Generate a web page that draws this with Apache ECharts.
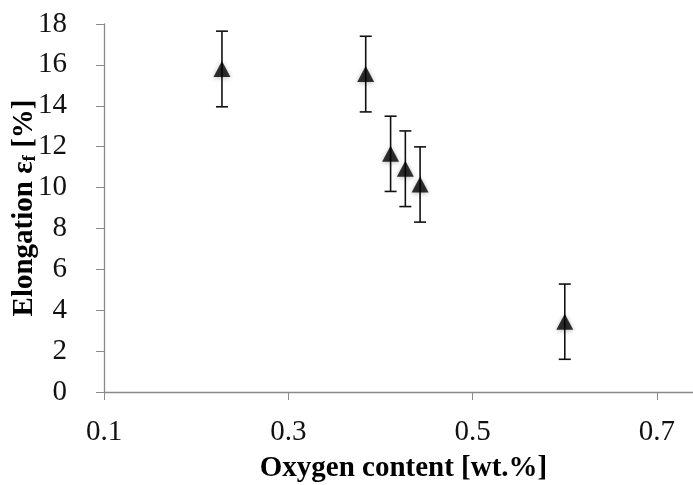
<!DOCTYPE html>
<html>
<head>
<meta charset="utf-8">
<script src="https://cdn.jsdelivr.net/npm/echarts@6/dist/echarts.min.js"></script>
<style>
  html, body { margin: 0; padding: 0; background: #fff; }
  #chart { width: 693px; height: 485px; }
</style>
</head>
<body>
<div id="chart"></div>
<script>
// 数据：氧含量 vs 延伸率
const oxygen = [0.228, 0.384, 0.411, 0.427, 0.443, 0.600]
const elongation = [15.8, 15.55, 11.65, 10.92, 10.15, 3.44]
const errorBar = [1.85, 1.85, 1.84, 1.85, 1.84, 1.84]
const xTickLabels = ['0.1', '0.3', '0.5', '0.7']

const fontFamily = '"Liberation Serif", "Times New Roman", serif'
const axisGray = '#8a8a8a'

const points = oxygen.map((x, i) => [x, elongation[i]])
const bars = oxygen.map((x, i) => [x, elongation[i] - errorBar[i], elongation[i] + errorBar[i]])

const chart = echarts.init(document.getElementById('chart'))
chart.setOption({
  animation: false,
  grid: { left: 104, right: -10, top: 24, bottom: 93, outerBoundsMode: 'none', containLabel: false },
  xAxis: {
    type: 'value',
    min: 0.1,
    max: 0.75,
    interval: 0.2,
    name: 'Oxygen content [wt.%]',
    nameLocation: 'middle',
    nameGap: 62,
    nameMoveOverlap: false,
    nameTextStyle: { fontFamily, fontSize: 29, fontWeight: 'bold', color: '#000' },
    axisLine: { lineStyle: { color: axisGray, width: 1.3 } },
    axisTick: { inside: false, length: 8, lineStyle: { color: axisGray } },
    axisLabel: {
      margin: 26,
      fontFamily,
      fontSize: 29,
      color: '#111',
      hideOverlap: false,
      formatter: v => {
        const s = v.toFixed(1)
        return xTickLabels.includes(s) && Math.abs(v - parseFloat(s)) < 1e-6 ? s : ''
      }
    },
    splitLine: { show: false }
  },
  yAxis: {
    type: 'value',
    min: 0,
    max: 18,
    interval: 2,
    name: '{t|Elongation ε}{s|f}{t| [%]}',
    nameLocation: 'middle',
    nameGap: 64,
    nameMoveOverlap: false,
    nameTextStyle: {
      rich: {
        t: { fontFamily, fontSize: 29, fontWeight: 'bold', color: '#000' },
        s: { fontFamily, fontSize: 19, fontWeight: 'bold', color: '#000', verticalAlign: 'bottom', padding: [11, 0, 0, 0] }
      }
    },
    axisLine: { show: true, lineStyle: { color: axisGray, width: 1.3 } },
    axisTick: { show: true, length: 8, lineStyle: { color: axisGray } },
    axisLabel: { margin: 37, fontFamily, fontSize: 29, color: '#111' },
    splitLine: { show: false }
  },
  series: [
    {
      // 误差棒
      type: 'custom',
      data: bars,
      z: 2,
      renderItem: (params, api) => {
        const x = api.value(0)
        const low = api.coord([x, api.value(1)])
        const high = api.coord([x, api.value(2)])
        const cap = 6
        const style = { stroke: '#111', lineWidth: 1.6 }
        return {
          type: 'group',
          children: [
            { type: 'line', shape: { x1: low[0], y1: low[1], x2: high[0], y2: high[1] }, style },
            { type: 'line', shape: { x1: low[0] - cap, y1: low[1], x2: low[0] + cap, y2: low[1] }, style },
            { type: 'line', shape: { x1: high[0] - cap, y1: high[1], x2: high[0] + cap, y2: high[1] }, style }
          ]
        }
      }
    },
    {
      type: 'scatter',
      data: points,
      symbol: 'triangle',
      symbolSize: [17, 16],
      z: 3,
      itemStyle: {
        color: '#000',
        shadowBlur: 5,
        shadowColor: 'rgba(0,0,0,0.35)',
        shadowOffsetY: 1
      }
    }
  ]
})
</script>
</body>
</html>
